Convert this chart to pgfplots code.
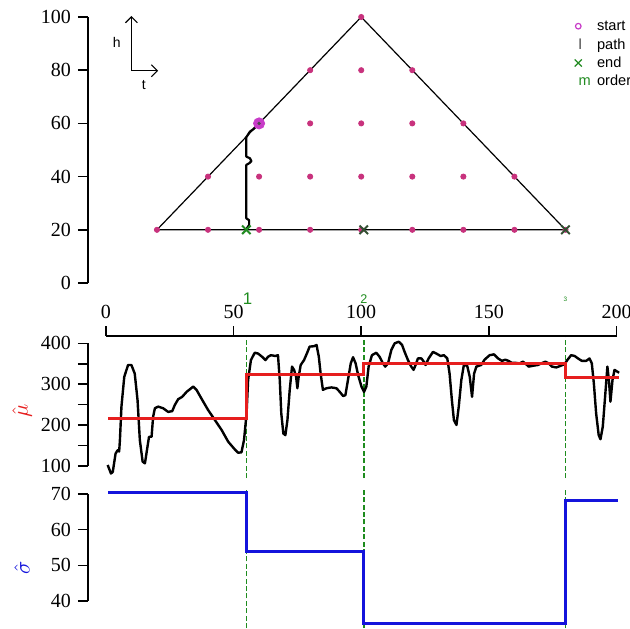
\documentclass[border=0pt]{standalone}
\usepackage{pgfplots}
\pgfplotsset{compat=1.18}
\usepackage{fontspec}
\setmainfont{Liberation Serif}
\setsansfont{Liberation Sans}
\usetikzlibrary{arrows.meta}

\definecolor{dotcol}{RGB}{200,50,125}
\definecolor{startcol}{RGB}{200,60,200}
\definecolor{endgreen}{RGB}{34,139,34}
\definecolor{enddark}{RGB}{50,80,50}
\definecolor{cpgreen}{RGB}{30,140,30}
\definecolor{mured}{RGB}{230,30,30}
\definecolor{sigblue}{RGB}{20,20,220}

\pgfplotsset{
  panel/.style={
    scale only axis, width=274.5pt, xmin=-7, xmax=208, clip=false,
    tick align=outside, major tick length=5pt,
    tick style={black, line width=0.8pt},
    axis line style={draw=none},
    ticklabel style={font=\rmfamily\fontsize{10}{12}\selectfont},
    /pgf/number format/assume math mode=true,
  },
  cp/.style={cpgreen, line width=0.8pt, dash pattern=on 2.5pt off 1.2pt, forget plot},
}

\begin{document}
\begin{tikzpicture}
\useasboundingbox (0,0) rectangle (315pt,314pt);
\clip (0,0) rectangle (315pt,314pt);

% triangle panel (t, h)
\begin{axis}[panel, at={(44pt,172.5pt)}, anchor=south west, height=133pt,
  ymin=0, ymax=100, axis x line=none, axis y line*=left,
  ytick={0,20,...,100},
  legend style={at={(axis cs:183.2,100)}, anchor=north west, draw=none, fill=none,
    inner sep=0pt, row sep=0.4pt, font=\sffamily\fontsize{7.3}{8}\selectfont,
    nodes={inner sep=0.6pt, text height=6pt, text depth=1.6pt},
    /tikz/every odd column/.append style={column sep=2.5pt}},
  legend cell align=left]
  \addplot[black, line width=0.6pt, forget plot] coordinates {(20,20) (100,100) (180,20) (20,20)};
  \addplot[only marks, mark=*, mark size=1.3pt, dotcol, forget plot] coordinates {
    (20,20) (40,20) (60,20) (80,20) (100,20) (120,20) (140,20) (160,20) (180,20)
    (40,40) (60,40) (80,40) (100,40) (120,40) (140,40) (160,40)
    (60,60) (80,60) (100,60) (120,60) (140,60)
    (80,80) (100,80) (120,80)
    (100,100)};
  \addplot[black, line width=1.1pt, line join=round, forget plot] coordinates {
    (60,60) (57.7,57.8) (56.4,56.9) (55,54.8) (55,47.5) (56.4,46.9) (57,45.8)
    (56.1,45) (55,44.4) (55,24.3) (56.1,23.6) (56.1,21.8) (55.2,20.5) (55,20)};
  \addplot[only marks, mark=*, mark size=2.8pt, startcol, forget plot] coordinates {(60,60)};
  \addplot[only marks, mark=*, mark size=0.6pt, black!70, forget plot] coordinates {(60,60)};
  \addplot[only marks, mark=x, mark size=3pt, line width=1pt, endgreen, forget plot] coordinates {(55,20)};
  \addplot[only marks, mark=x, mark size=3pt, line width=1pt, enddark, forget plot] coordinates {(101,20) (180,20)};
  \draw[line width=0.8pt] (axis cs:-7,0) -- (axis cs:-7,100);
  \draw[line width=0.6pt, -{Straight Barb[length=3pt]}] (axis cs:10,79.8) -- (axis cs:10,100.4);
  \draw[line width=0.6pt, -{Straight Barb[length=3pt]}] (axis cs:10,79.8) -- (axis cs:20.5,79.8);
  \node[font=\sffamily\fontsize{7}{8}\selectfont] at (axis cs:4.3,90.3) {h};
  \node[font=\sffamily\fontsize{7}{8}\selectfont] at (axis cs:14.9,74.4) {t};
  \addlegendimage{legend image code/.code={\draw[startcol, line width=0.6pt] (0,0) circle (1.4pt);}}
  \addlegendentry{start}
  \addlegendimage{legend image code/.code={\node[inner sep=0pt, text=black!75, text height=, text depth=] at (0,0) {l};}}
  \addlegendentry{path}
  \addlegendimage{legend image code/.code={\draw[endgreen, line width=0.6pt] (-1.8pt,-1.8pt) -- (1.8pt,1.8pt) (-1.8pt,1.8pt) -- (1.8pt,-1.8pt);}}
  \addlegendentry{end}
  \addlegendimage{legend image code/.code={\node[inner sep=0pt, text=endgreen, text height=, text depth=] at (0,0) {m};}}
  \addlegendentry{order}
\end{axis}

% mean panel
\begin{axis}[panel, at={(44pt,75pt)}, anchor=south west, height=71pt,
  ymin=70, ymax=418, axis x line*=top, axis y line*=left,
  xtick={0,50,...,200}, ytick={100,150,...,400},
  yticklabels={100,,200,,300,,400},
  ylabel={$\hat{\mu}$},
  ylabel style={at={(axis description cs:-0.12,0.47)}, anchor=center, text=mured,
    font=\fontsize{11}{13}\selectfont}]
  \addplot[cp] coordinates {(55,70) (55,418)};
  \addplot[cp] coordinates {(101,70) (101,418)};
  \addplot[cp] coordinates {(180,70) (180,418)};
  \addplot[black, line width=1.2pt, line join=round] coordinates {
    (0.7,102) (2,81) (2.7,85) (3.8,130) (4.6,138) (5.2,135) (5.5,163) (6.1,245)
    (7.2,318) (8.7,347) (10,347) (11.3,326) (12.4,261) (13.3,163) (14.4,110)
    (15.3,106) (16.3,147) (16.9,171) (17.9,171) (18.5,220) (19.2,241) (20.5,245)
    (22.4,241) (24.4,232) (26,234) (27,249) (28.3,263) (29.9,269) (31.6,281)
    (34.2,294) (35.5,286) (37.4,265) (40,237) (42.7,212) (45.3,188) (47.9,159)
    (50.5,140) (51.8,132) (53.1,133) (54.1,163) (55.1,228) (55.7,310) (56.8,359)
    (58.3,377) (59.6,375) (61.2,367) (62.5,359) (63.5,367) (64.6,371) (66.4,369)
    (67.4,371) (68.1,310) (68.7,228) (69.5,179) (70.3,175) (71.1,212) (72,286)
    (72.9,343) (73.7,335) (74.5,318) (75,290) (75.5,318) (76.3,347) (77.6,359)
    (78.7,375) (79.8,392) (81.5,393) (82.5,396) (83.4,367) (84.1,326) (85,286)
    (86.4,290) (88.3,292) (90.3,290) (91.6,281) (92.9,271) (93.8,273) (94.8,310)
    (95.9,351) (96.8,366) (97.8,351) (98.8,322) (100.1,294) (101.1,281) (102,294)
    (102.9,343) (104.2,371) (105.9,377) (107.2,367) (108.5,351) (109.4,343)
    (110.5,351) (111.8,384) (113.1,400) (114.7,404) (116,396) (117,379) (118.3,359)
    (119.6,343) (120.5,335) (121.3,347) (122.2,363) (123.6,363) (124.5,355)
    (125.2,347) (126.4,363) (128.1,379) (129.4,375) (131.1,369) (132.4,371)
    (133.7,363) (134.6,326) (135.5,261) (136.3,212) (137.3,200) (138.2,245)
    (139.2,310) (140.2,347) (141.5,345) (142.5,318) (143.4,269) (144.2,326)
    (145.1,343) (147,347) (148.3,360) (150.3,371) (152,373) (153.6,363) (155.1,357)
    (156.4,360) (157.7,357) (159,352) (160.7,352) (162,351) (163.3,355) (164.2,351)
    (165.6,343) (167.2,345) (169.2,347) (170.5,351) (172.1,355) (173.4,351)
    (174.7,343) (176.4,341) (178.1,345) (179.6,349) (180.7,359) (182.2,371)
    (183.6,369) (184.9,363) (186.4,357) (188.1,357) (189.4,363) (190.3,351)
    (191.1,302) (192,228) (193,175) (193.7,165) (194.6,196) (195.6,277) (196.4,343)
    (197,310) (197.6,257) (198.4,310) (199.2,335) (200.2,331) (201,328)};
  \addplot[mured, line width=1.5pt, const plot] coordinates {
    (1,216) (55,324) (101,350) (180,316) (201,316)};
  \draw[line width=0.8pt] (axis cs:-7,100) -- (axis cs:-7,400);
  \draw[line width=0.8pt] (axis cs:0,418) -- (axis cs:200,418);
  \node[text=cpgreen, font=\sffamily\fontsize{8.4}{9}\selectfont] at (axis cs:55.5,509) {1};
  \node[text=cpgreen, font=\sffamily\fontsize{6.3}{7}\selectfont] at (axis cs:101,509) {2};
  \node[text=cpgreen, font=\sffamily\fontsize{3.2}{4}\selectfont] at (axis cs:180,509) {3};
\end{axis}

% sd panel
\begin{axis}[panel, at={(44pt,0pt)}, anchor=south west, height=70pt,
  ymin=32.4, ymax=71.7, axis x line=none, axis y line*=left,
  ytick={40,50,60,70},
  ylabel={$\hat{\sigma}$},
  ylabel style={at={(axis description cs:-0.12,0.43)}, anchor=center, text=sigblue,
    font=\fontsize{11}{13}\selectfont}]
  \addplot[cp] coordinates {(55,32.4) (55,71.7)};
  \addplot[cp] coordinates {(101,32.4) (101,71.7)};
  \addplot[cp] coordinates {(180,32.4) (180,71.7)};
  \addplot[sigblue, line width=1.5pt, const plot] coordinates {
    (1,70.3) (55,54) (101,33.6) (180,68.3) (200.5,68.3)};
  \draw[line width=0.8pt] (axis cs:-7,40) -- (axis cs:-7,70);
\end{axis}
\end{tikzpicture}
\end{document}
